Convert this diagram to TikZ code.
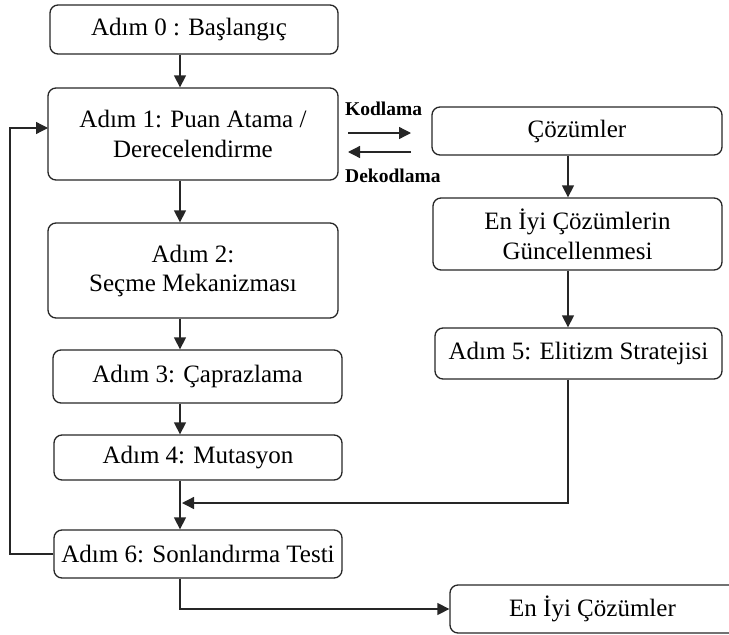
\documentclass[tikz,border=0pt]{standalone}
\usepackage{fontspec}
\setmainfont{Liberation Serif}
\usetikzlibrary{arrows.meta,calc}
\begin{document}
\begin{tikzpicture}[x=1pt,y=-1pt,
  box/.style={draw=black!85,line width=1.3pt,rounded corners=8pt,align=center,
    inner sep=0pt,font=\fontsize{25}{30}\selectfont},
  conn/.style={line width=1.3pt,draw=black!85,-{Triangle[length=12pt,width=12pt]}},
  lbl/.style={font=\fontsize{19.5}{21}\selectfont\bfseries,inner sep=0pt}]
\useasboundingbox (0,0) rectangle (729,635);
\clip (0,0) rectangle (729,635);

% left column
\node[box,minimum width=288pt,minimum height=49pt] (b0) at (194,29.5) {\hspace*{-10pt}Adım 0 : Başlangıç};
\node[box,minimum width=290pt,minimum height=92pt] (b1) at (193,134) {Adım 1: Puan Atama /\\Derecelendirme};
\node[box,minimum width=290pt,minimum height=95pt,font=\fontsize{25}{29}\selectfont] (b2) at (193,270.5) {Adım 2:\\Seçme Mekanizması};
\node[box,minimum width=289pt,minimum height=53pt] (b3) at (197.5,376.5) {Adım 3: Çaprazlama};
\node[box,minimum width=288pt,minimum height=45pt] (b4) at (198,457.5) {Adım 4: Mutasyon};
\node[box,minimum width=288pt,minimum height=48pt] (b6) at (198,554) {Adım 6: Sonlandırma Testi};

% right column
\node[box,minimum width=290pt,minimum height=48pt] (sol) at (577,131) {Çözümler};
\node[box,minimum width=289pt,minimum height=72pt] (upd) at (577.5,234) {En İyi Çözümlerin\\Güncellenmesi};
\node[box,minimum width=287pt,minimum height=51pt] (b5) at (578.5,353.5) {Adım 5: Elitizm Stratejisi};
\node[box,minimum width=295pt,minimum height=48pt] (best) at (597.5,609) {\hspace*{-10pt}En İyi Çözümler};

% guide coordinates
\coordinate (col) at (180,0);
\coordinate (rcol) at (568,0);
\coordinate (loopx) at (10,0);
\coordinate (loopin) at (48,128);
\coordinate (mj) at (182,503);
\coordinate (k1) at (348,133);
\coordinate (k2) at (411,133);
\coordinate (d1) at (411,152);
\coordinate (d2) at (348,152);

% main flow
\draw[conn] (b0.south -| col) -- (b1.north -| col);
\draw[conn] (b1.south -| col) -- (b2.north -| col);
\draw[conn] (b2.south -| col) -- (b3.north -| col);
\draw[conn] (b3.south -| col) -- (b4.north -| col);
\draw[conn] (b4.south -| col) -- (b6.north -| col);

% loop back to step 1
\draw[conn] (b6.west) -- (b6.west -| loopx) -- (loopx |- loopin) -- (loopin);

% encoding / decoding
\draw[conn] (k1) -- (k2);
\draw[conn] (d1) -- (d2);
\node[lbl,anchor=base west] (kod) at (345,115) {Kodlama};
\node[lbl,anchor=base west] (dekod) at (345,182) {Dekodlama};

% right column flow
\draw[conn] (sol.south -| rcol) -- (upd.north -| rcol);
\draw[conn] (upd.south -| rcol) -- (b5.north -| rcol);
\draw[conn] (b5.south -| rcol) |- (mj);

% final output
\draw[conn] (b6.south -| col) |- (best.west);
\end{tikzpicture}
\end{document}
